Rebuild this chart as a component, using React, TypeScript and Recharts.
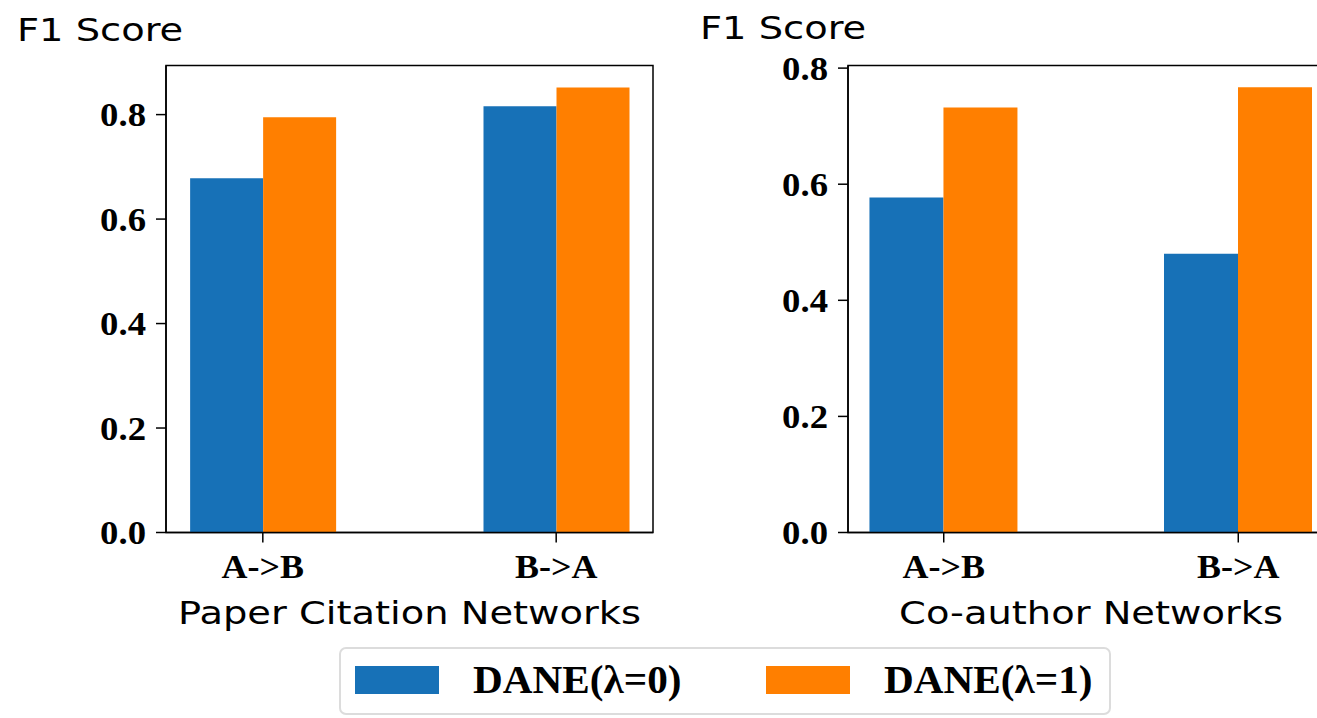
import { BarChart, Bar, XAxis, YAxis, ReferenceArea } from "recharts";

const categories = ["A->B", "B->A"];
const seriesNames = ["DANE(λ=0)", "DANE(λ=1)"];
const paperLam0 = [0.678, 0.816];
const paperLam1 = [0.795, 0.852];
const coauthorLam0 = [0.577, 0.48];
const coauthorLam1 = [0.732, 0.767];
const yTicks = [0, 0.2, 0.4, 0.6, 0.8];

const COLORS = ["#1771b7", "#ff7f00"];
const SERIF = '"Liberation Serif", "Times New Roman", serif';
const SANS = '"DejaVu Sans", sans-serif';

const buildRows = (a: number[], b: number[]) =>
  categories.map((name, i) => ({ pos: i, name, lam0: a[i], lam1: b[i] }));

// the source image is stretched sideways, so text gets a horizontal scale
const StretchText = ({ x, y, sx, anchor, family, size, bold, children }: any) => (
  <g transform={`translate(${x},${y}) scale(${sx},1)`}>
    <text
      x={0}
      y={0}
      textAnchor={anchor}
      fontFamily={family}
      fontWeight={bold ? "bold" : "normal"}
      fontSize={size}
      fill="#000"
    >
      {children}
    </text>
  </g>
);

const YTick = ({ x, y, payload }: any) => (
  <StretchText x={x} y={y + 11.5} sx={1.08} anchor="end" family={SERIF} size={34} bold>
    {Number(payload.value).toFixed(1)}
  </StretchText>
);

const XTick = ({ x, payload }: any) => (
  <StretchText x={x} y={578} sx={1.09} anchor="middle" family={SERIF} size={33} bold>
    {categories[payload.value]}
  </StretchText>
);

interface PanelProps {
  rows: any[];
  left: number;
  width: number;
  margin: { top: number; right: number; left: number; bottom: number };
  xDomain: [number, number];
  yMax: number;
  barSize: number;
  xTitle: string;
  yTitleX: number;
  yTitleY: number;
}

const Panel = ({ rows, left, width, margin, xDomain, yMax, barSize, xTitle, yTitleX, yTitleY }: PanelProps) => (
  <div style={{ position: "absolute", left, top: 0 }}>
    <BarChart width={width} height={718} data={rows} margin={margin} barGap={0} barSize={barSize}>
      <XAxis
        dataKey="pos"
        type="number"
        domain={xDomain}
        ticks={[0, 1]}
        allowDataOverflow
        height={60}
        tickSize={10}
        stroke="#000"
        strokeWidth={1.5}
        tick={<XTick />}
        label={{
          content: (p: any) => (
            <StretchText x={p.viewBox.x + p.viewBox.width / 2} y={624} sx={1.2} anchor="middle" family={SANS} size={32}>
              {xTitle}
            </StretchText>
          ),
        }}
      />
      <YAxis
        type="number"
        domain={[0, yMax]}
        ticks={yTicks}
        allowDataOverflow
        width={80}
        tickSize={10}
        tickMargin={10}
        stroke="#000"
        strokeWidth={1.5}
        tick={<YTick />}
        label={{
          content: () => (
            <StretchText x={yTitleX} y={yTitleY} sx={1.2} anchor="start" family={SANS} size={32}>
              F1 Score
            </StretchText>
          ),
        }}
      />
      <Bar dataKey="lam0" name={seriesNames[0]} fill={COLORS[0]} isAnimationActive={false} />
      <Bar dataKey="lam1" name={seriesNames[1]} fill={COLORS[1]} isAnimationActive={false} />
      <ReferenceArea
        x1={xDomain[0]}
        x2={xDomain[1]}
        y1={0}
        y2={yMax}
        fill="none"
        fillOpacity={0}
        stroke="#000"
        strokeWidth={1.5}
        ifOverflow="visible"
      />
    </BarChart>
  </div>
);

const Legend = () => (
  <div
    style={{
      position: "absolute",
      left: 339,
      top: 647,
      width: 772,
      height: 68,
      border: "2px solid #dcdcdc",
      borderRadius: 7,
      boxSizing: "border-box",
    }}
  >
    {seriesNames.map((name, i) => (
      <div
        key={name}
        style={{ position: "absolute", left: 14 + i * 411, top: 0, height: 62, display: "flex", alignItems: "center" }}
      >
        <div style={{ width: 84, height: 28, background: COLORS[i] }} />
        <span
          style={{
            marginLeft: 34,
            fontFamily: SERIF,
            fontWeight: "bold",
            fontSize: 40,
            lineHeight: "40px",
            color: "#000",
            whiteSpace: "nowrap",
            display: "inline-block",
            transform: "scaleX(1.03)",
            transformOrigin: "left center",
          }}
        >
          {name}
        </span>
      </div>
    ))}
  </div>
);

export default function App() {
  return (
    <div
      style={{
        position: "fixed",
        left: 0,
        top: 0,
        width: 1317,
        height: 718,
        overflow: "hidden",
        background: "#fff",
      }}
    >
      <Panel
        rows={buildRows(paperLam0, paperLam1)}
        left={0}
        width={700}
        margin={{ top: 65.5, right: 47, left: 86, bottom: 125.5 }}
        xDomain={[-0.33, 1.33]}
        yMax={0.894}
        barSize={73}
        xTitle="Paper Citation Networks"
        yTitleX={17}
        yTitleY={41}
      />
      <Panel
        rows={buildRows(coauthorLam0, coauthorLam1)}
        left={680}
        width={720}
        margin={{ top: 65.5, right: 66, left: 88, bottom: 125.5 }}
        xDomain={[-0.325, 1.325]}
        yMax={0.8045}
        barSize={74}
        xTitle="Co-author Networks"
        yTitleX={20}
        yTitleY={39}
      />
      <Legend />
    </div>
  );
}
